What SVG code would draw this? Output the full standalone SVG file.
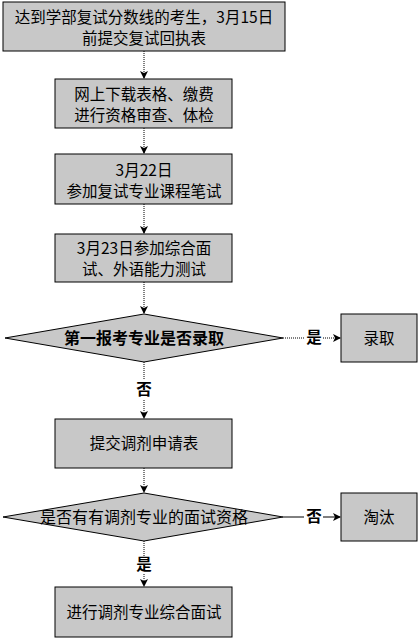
<svg xmlns="http://www.w3.org/2000/svg" width="420" height="639" viewBox="0 0 420 639">
<style>
.box{fill:#c8c8c8;stroke:#000;stroke-width:1}
.t{font-family:"Noto Sans CJK SC","Liberation Sans",sans-serif;font-size:15.5px;fill:#000;text-anchor:middle}
.b{font-weight:bold}
.big{font-size:16px}
.c{fill:none;stroke:#000;stroke-width:1}
.d{stroke-dasharray:1 1}
</style>
<defs>
<marker id="ah" markerWidth="8" markerHeight="8" refX="7" refY="4" orient="auto" markerUnits="userSpaceOnUse">
<path d="M0,0 L8,4 L0,8 L2,4 Z" fill="#000"/>
</marker>
</defs>
<rect width="420" height="639" fill="#fff"/>
<g id="connectors">
<line class="c d" x1="144" y1="51" x2="144" y2="78" marker-end="url(#ah)"/>
<line class="c d" x1="144" y1="128" x2="144" y2="153" marker-end="url(#ah)"/>
<line class="c d" x1="144" y1="204" x2="144" y2="233" marker-end="url(#ah)"/>
<line class="c d" x1="144" y1="282" x2="144" y2="313" marker-end="url(#ah)"/>
<line class="c d" x1="283" y1="338" x2="304" y2="338"/>
<line class="c d" x1="323" y1="338" x2="340" y2="338" marker-end="url(#ah)"/>
<line class="c d" x1="144" y1="362" x2="144" y2="380"/>
<line class="c d" x1="144" y1="400" x2="144" y2="418" marker-end="url(#ah)"/>
<line class="c d" x1="144" y1="468" x2="144" y2="492" marker-end="url(#ah)"/>
<line class="c" x1="283" y1="517" x2="304" y2="517"/>
<line class="c" x1="323" y1="517" x2="340" y2="517" marker-end="url(#ah)"/>
<line class="c d" x1="144" y1="541" x2="144" y2="556"/>
<line class="c d" x1="144" y1="574" x2="144" y2="586" marker-end="url(#ah)"/>
<text class="t b" x="314" y="343">是</text>
<text class="t b" x="144" y="395">否</text>
<text class="t b" x="314" y="522">否</text>
<text class="t b" x="144" y="570">是</text>
</g>
<g id="n1">
<rect class="box" x="3" y="2" width="282" height="49"/>
<text class="t" x="144" y="23">达到学部复试分数线的考生，3月15日</text>
<text class="t" x="144" y="44">前提交复试回执表</text>
</g>
<g id="n2">
<rect class="box" x="55" y="79" width="177" height="49"/>
<text class="t" x="144" y="100">网上下载表格、缴费</text>
<text class="t" x="144" y="121">进行资格审查、体检</text>
</g>
<g id="n3">
<rect class="box" x="55" y="154" width="177" height="50"/>
<text class="t" x="144" y="176">3月22日</text>
<text class="t" x="144" y="197">参加复试专业课程笔试</text>
</g>
<g id="n4">
<rect class="box" x="55" y="234" width="177" height="48"/>
<text class="t" x="144" y="254">3月23日参加综合面</text>
<text class="t" x="144" y="275">试、外语能力测试</text>
</g>
<g id="n5">
<polygon class="box" points="144,314 283,338 144,362 5,338"/>
<text class="t b big" x="144" y="344">第一报考专业是否录取</text>
</g>
<g id="n6">
<rect class="box" x="341" y="314" width="76" height="48"/>
<text class="t" x="379" y="344">录取</text>
</g>
<g id="n7">
<rect class="box" x="55" y="419" width="177" height="49"/>
<text class="t" x="144" y="449">提交调剂申请表</text>
</g>
<g id="n8">
<polygon class="box" points="144,493 283,517 144,541 3,517"/>
<text class="t big" x="144" y="523">是否有有调剂专业的面试资格</text>
</g>
<g id="n9">
<rect class="box" x="341" y="493" width="76" height="48"/>
<text class="t" x="379" y="523">淘汰</text>
</g>
<g id="n10">
<rect class="box" x="55" y="587" width="177" height="50"/>
<text class="t" x="144" y="618">进行调剂专业综合面试</text>
</g>
</svg>
